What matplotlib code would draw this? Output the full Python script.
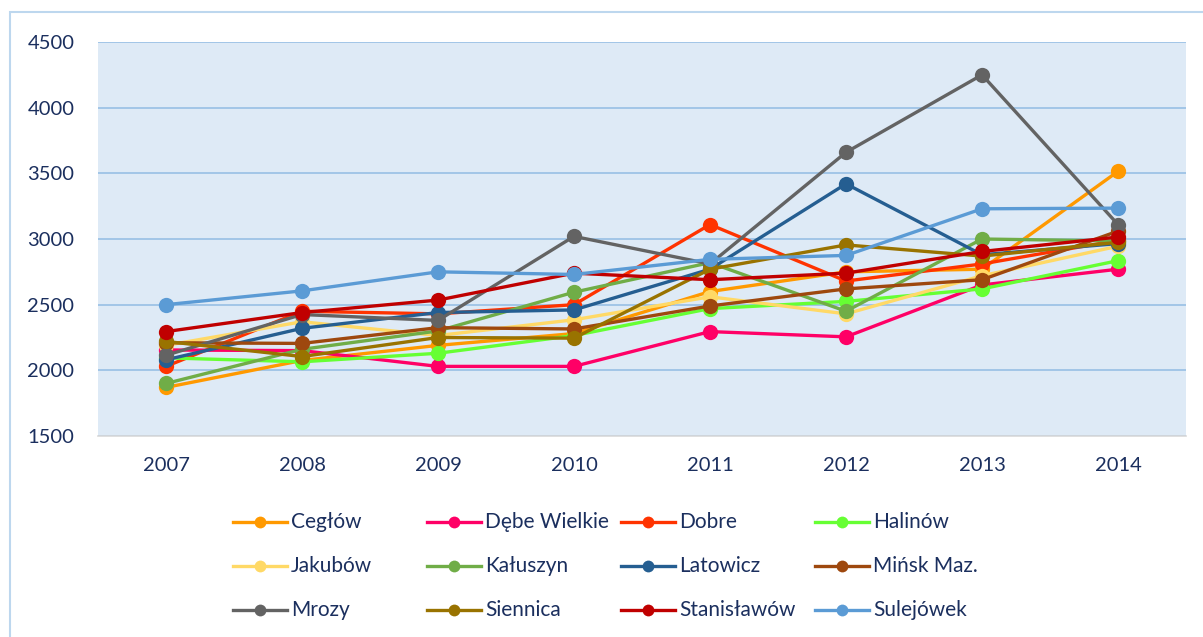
import matplotlib
matplotlib.use("Agg")
import matplotlib.pyplot as plt
from matplotlib.lines import Line2D
from matplotlib.patches import Rectangle

years = ["2007", "2008", "2009", "2010", "2011", "2012", "2013", "2014"]

names = ["Cegłów", "Dębe Wielkie", "Dobre", "Halinów",
         "Jakubów", "Kałuszyn", "Latowicz", "Mińsk Maz.",
         "Mrozy", "Siennica", "Stanisławów", "Sulejówek"]

ceglow      = [1870, 2075, 2190, 2280, 2600, 2750, 2770, 3515]
debe        = [2155, 2150, 2030, 2030, 2295, 2255, 2650, 2770]
dobre       = [2030, 2450, 2430, 2500, 3110, 2680, 2810, 2990]
halinow     = [2095, 2065, 2130, 2265, 2470, 2525, 2620, 2835]
jakubow     = [2190, 2370, 2265, 2385, 2560, 2430, 2720, 2945]
kaluszyn    = [1900, 2160, 2300, 2595, 2820, 2450, 3000, 2985]
latowicz    = [2080, 2320, 2440, 2460, 2770, 3420, 2880, 2965]
minsk       = [2210, 2205, 2325, 2315, 2490, 2620, 2690, 3060]
mrozy       = [2115, 2425, 2380, 3020, 2810, 3660, 4250, 3110]
siennica    = [2220, 2105, 2250, 2245, 2770, 2955, 2870, 2975]
stanislawow = [2295, 2440, 2535, 2740, 2690, 2740, 2905, 3015]
sulejowek   = [2500, 2605, 2750, 2730, 2845, 2875, 3230, 3235]

series = [ceglow, debe, dobre, halinow, jakubow, kaluszyn,
          latowicz, minsk, mrozy, siennica, stanislawow, sulejowek]

colors = ["#FF9900", "#FF0066", "#FF3300", "#66FF33",
          "#FFD966", "#70AD47", "#255E91", "#9E480E",
          "#636363", "#997300", "#C00000", "#5B9BD5"]

yticks = [1500, 2000, 2500, 3000, 3500, 4000, 4500]

W, H = 1203, 637
txt_color = "#1B2F5E"
plt.rcParams["font.family"] = ["Lato", "DejaVu Sans"]

fig = plt.figure(figsize=(W / 100, H / 100), dpi=100)

# outer chart border
fig.add_artist(Rectangle((10 / W, -0.05), 1.1, 1 - 12 / H + 0.05,
                         transform=fig.transFigure, fill=False,
                         edgecolor="#BDD7EE", lw=1.5))

ax = fig.add_axes([98 / W, 1 - 436 / H, 1088 / W, 394 / H])
ax.set_facecolor("#DEEAF6")
x = list(range(len(years)))
for vals, c in zip(series, colors):
    ax.plot(x, vals, color=c, lw=2.4, marker="o", markersize=11,
            markeredgewidth=0, solid_capstyle="round", zorder=3)

ax.set_xlim(-0.5, len(years) - 0.5)
ax.set_ylim(1500, 4500)
ax.set_yticks(yticks)
ax.set_xticks(x)
ax.set_xticklabels(years)
ax.grid(axis="y", color="#9DC3E6", lw=1.3, zorder=1)
ax.set_axisbelow(True)
for s in ["top", "right", "left"]:
    ax.spines[s].set_visible(False)
ax.spines["bottom"].set_color("#D9D9D9")
ax.spines["bottom"].set_linewidth(1.2)
ax.tick_params(axis="both", length=0, labelsize=14.5, labelcolor=txt_color)
ax.tick_params(axis="y", pad=17)
ax.tick_params(axis="x", pad=15)

# legend (equal-width columns, like the original)
for i, (name, c) in enumerate(zip(names, colors)):
    col, row = i % 4, i // 4
    x0 = 233 + 194 * col
    yy = 1 - (522 + 44 * row) / H
    fig.add_artist(Line2D([x0 / W, (x0 + 54) / W], [yy, yy],
                          transform=fig.transFigure, color=c, lw=2.4))
    fig.add_artist(Line2D([(x0 + 27) / W], [yy], transform=fig.transFigure,
                          color=c, marker="o", markersize=8.5, markeredgewidth=0))
    fig.text((x0 + 58) / W, yy, name, color=txt_color, fontsize=15,
             va="center", ha="left")

fig.savefig("out.png", dpi=100, facecolor="white")
